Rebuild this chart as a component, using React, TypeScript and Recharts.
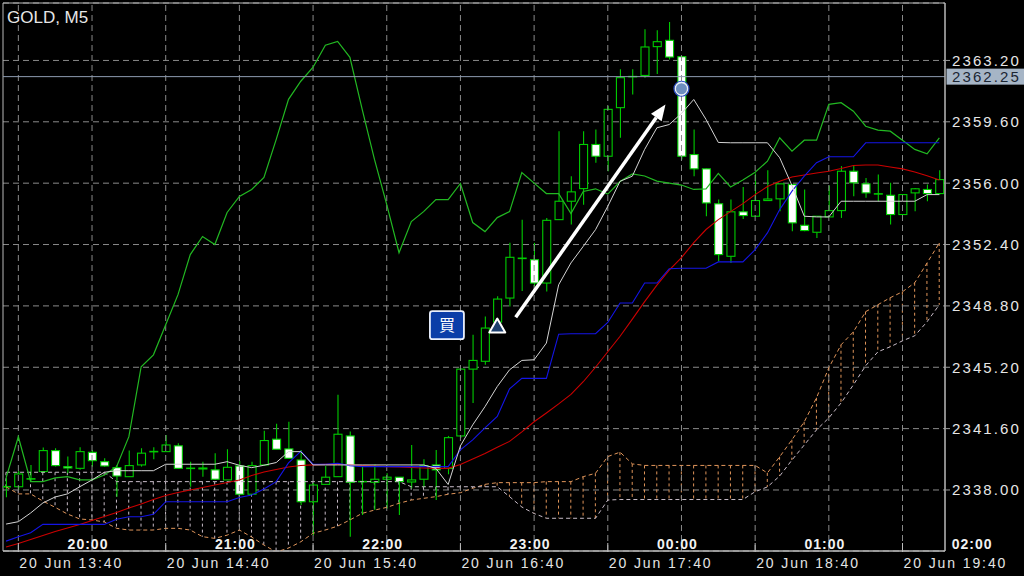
import React from 'react';
import {
  ComposedChart, Bar, Line, XAxis, YAxis, CartesianGrid,
  ReferenceLine, ReferenceDot, ReferenceArea,
} from 'recharts';

// ---------- data ----------
const openP = [
  2338.19, 2338.19, 2338.65, 2339.08, 2340.31, 2339.37, 2339.27, 2340.21, 2339.66, 2339.31,
  2338.78, 2339.47, 2340.25, 2340.25, 2340.59, 2339.27, 2339.29, 2339.18, 2338.59, 2339.41,
  2337.75, 2339.47, 2340.98, 2340.41, 2339.76, 2337.31, 2338.33, 2338.78, 2341.17, 2338.49,
  2338.45, 2338.63, 2338.75, 2338.47, 2338.63, 2339.47, 2339.27, 2341.17, 2345.09, 2345.55,
  2347.85, 2349.26, 2351.59, 2351.51, 2350.14, 2353.86, 2354.94, 2355.68, 2358.27, 2357.58,
  2360.43, 2362.25, 2362.32, 2364.01, 2364.38, 2363.42, 2357.68, 2356.84, 2354.79, 2351.71,
  2354.32, 2354.06, 2354.98, 2355.08, 2355.92, 2353.53, 2353.12, 2354.02, 2354.39, 2356.70,
  2355.96, 2355.37, 2355.29, 2354.16, 2355.43, 2355.63, 2355.39,
];
const highP = [
  2338.69, 2339.12, 2339.47, 2340.49, 2340.45, 2339.96, 2340.51, 2340.35, 2339.86, 2339.47,
  2340.31, 2340.45, 2340.51, 2341.23, 2340.74, 2339.66, 2339.66, 2340.16, 2340.39, 2339.70,
  2339.66, 2341.48, 2341.88, 2342.00, 2340.35, 2338.41, 2339.41, 2343.58, 2341.43, 2339.37,
  2339.51, 2338.98, 2338.75, 2340.64, 2339.80, 2340.35, 2341.17, 2345.15, 2347.10, 2348.18,
  2349.36, 2352.50, 2353.86, 2352.50, 2353.96, 2359.05, 2356.41, 2359.05, 2359.15, 2360.52,
  2362.68, 2362.68, 2365.03, 2364.97, 2365.45, 2363.46, 2359.15, 2356.86, 2355.04, 2355.04,
  2355.78, 2356.57, 2356.76, 2355.96, 2355.92, 2355.63, 2354.06, 2355.86, 2357.00, 2357.00,
  2356.31, 2356.51, 2356.02, 2355.33, 2355.72, 2355.92, 2356.76,
];
const lowP = [
  2337.57, 2338.00, 2338.53, 2338.98, 2339.38, 2338.98, 2339.18, 2339.37, 2339.37, 2337.61,
  2338.76, 2339.37, 2339.80, 2340.23, 2339.25, 2338.19, 2338.78, 2338.59, 2338.59, 2337.74,
  2337.75, 2339.47, 2340.39, 2339.86, 2337.12, 2335.35, 2338.33, 2338.78, 2335.26, 2336.53,
  2336.82, 2336.92, 2336.53, 2338.10, 2338.16, 2337.41, 2338.92, 2341.05, 2343.10, 2345.34,
  2348.00, 2348.77, 2349.67, 2349.94, 2349.65, 2353.86, 2353.57, 2354.74, 2357.20, 2356.70,
  2358.66, 2361.20, 2362.19, 2362.40, 2363.26, 2357.39, 2356.41, 2354.06, 2351.42, 2351.32,
  2353.90, 2354.06, 2354.98, 2354.35, 2353.18, 2353.18, 2352.79, 2354.02, 2353.96, 2355.23,
  2355.14, 2354.94, 2353.57, 2354.16, 2354.35, 2354.94, 2355.33,
];
const closeP = [
  2338.19, 2338.94, 2338.65, 2340.31, 2339.43, 2339.29, 2340.25, 2339.72, 2339.41, 2338.82,
  2339.43, 2340.16, 2340.25, 2340.64, 2339.27, 2339.27, 2339.25, 2338.63, 2339.33, 2337.75,
  2339.43, 2340.90, 2340.39, 2339.86, 2337.31, 2338.29, 2338.75, 2341.27, 2338.45, 2338.49,
  2338.63, 2338.75, 2338.49, 2338.59, 2339.43, 2339.18, 2341.07, 2345.09, 2345.60, 2347.50,
  2349.20, 2351.65, 2351.59, 2350.14, 2353.82, 2354.94, 2355.49, 2358.27, 2357.58, 2360.33,
  2362.19, 2362.25, 2363.99, 2364.30, 2363.40, 2357.58, 2356.84, 2354.84, 2351.81, 2354.32,
  2354.10, 2354.98, 2355.07, 2355.96, 2353.67, 2353.22, 2354.06, 2354.39, 2356.70, 2356.02,
  2355.43, 2355.37, 2354.16, 2355.33, 2355.67, 2355.39, 2356.21,
];
// white line
const tenkan = [
  2336.00, 2336.14, 2336.65, 2337.24, 2337.59, 2337.77, 2338.19, 2338.59, 2339.04, 2339.13,
  2339.13, 2339.13, 2339.13, 2339.51, 2339.51, 2339.51, 2339.51, 2339.51, 2339.66, 2339.45,
  2339.31, 2339.45, 2339.61, 2340.25, 2340.25, 2339.47, 2339.47, 2339.47, 2339.47, 2339.47,
  2339.47, 2339.47, 2339.47, 2339.47, 2339.47, 2339.27, 2338.32, 2340.59, 2341.82, 2342.89,
  2344.07, 2345.05, 2345.60, 2345.64, 2346.62, 2350.04, 2351.32, 2352.29, 2353.27, 2354.64,
  2356.11, 2356.41, 2357.98, 2359.25, 2359.44, 2360.09, 2360.91, 2359.74, 2358.39, 2358.37,
  2358.37, 2358.37, 2358.37, 2357.49, 2355.86, 2354.06, 2354.02, 2354.02, 2354.94, 2354.94,
  2354.94, 2354.94, 2354.94, 2354.94, 2354.94, 2355.33, 2355.33,
];
// blue line
const kijun = [
  2335.00, 2335.26, 2335.49, 2335.98, 2335.98, 2335.98, 2335.98, 2335.98, 2335.98, 2336.28,
  2336.43, 2336.43, 2336.57, 2337.31, 2337.31, 2337.31, 2337.31, 2337.31, 2337.31, 2337.56,
  2337.71, 2338.06, 2338.49, 2339.59, 2340.27, 2339.51, 2339.51, 2339.57, 2339.43, 2339.37,
  2339.37, 2339.37, 2339.37, 2339.37, 2339.37, 2339.37, 2339.37, 2340.35, 2340.94, 2341.64,
  2342.31, 2343.93, 2344.55, 2344.55, 2344.55, 2347.14, 2347.17, 2347.17, 2347.17, 2347.83,
  2348.97, 2348.97, 2350.14, 2350.14, 2350.98, 2351.01, 2351.01, 2351.01, 2351.38, 2351.38,
  2351.38, 2352.10, 2353.08, 2354.45, 2355.53, 2356.41, 2357.20, 2357.55, 2357.55, 2357.55,
  2358.37, 2358.37, 2358.37, 2358.37, 2358.37, 2358.37, 2358.37,
];
// red moving average
const movAvg = [
  2334.65, 2334.86, 2335.09, 2335.33, 2335.56, 2335.77, 2335.97, 2336.21, 2336.44, 2336.68,
  2336.94, 2337.18, 2337.44, 2337.68, 2337.85, 2338.00, 2338.15, 2338.29, 2338.44, 2338.59,
  2338.85, 2339.06, 2339.20, 2339.35, 2339.44, 2339.47, 2339.50, 2339.51, 2339.47, 2339.44,
  2339.41, 2339.37, 2339.35, 2339.32, 2339.29, 2339.27, 2339.27, 2339.50, 2339.82, 2340.14,
  2340.50, 2340.85, 2341.41, 2342.00, 2342.52, 2343.05, 2343.61, 2344.35, 2345.20, 2346.11,
  2347.02, 2348.02, 2349.05, 2350.02, 2350.90, 2351.63, 2352.51, 2353.28, 2353.86, 2354.33,
  2354.80, 2355.33, 2355.80, 2356.11, 2356.36, 2356.48, 2356.60, 2356.70, 2356.86, 2357.04,
  2357.07, 2357.07, 2356.95, 2356.84, 2356.66, 2356.43, 2356.19,
];
// green line
const chikou = [
  2338.71, 2341.12, 2338.49, 2338.49, 2338.71, 2338.78, 2338.59, 2338.59, 2338.88, 2339.37,
  2341.13, 2345.23, 2345.93, 2347.69, 2349.46, 2351.81, 2352.87, 2352.40, 2354.28, 2355.22,
  2355.63, 2356.33, 2358.57, 2360.92, 2361.98, 2362.80, 2364.09, 2364.32, 2363.38, 2360.33,
  2357.39, 2354.74, 2351.92, 2353.75, 2354.33, 2355.04, 2355.04, 2355.98, 2353.69, 2353.16,
  2353.98, 2354.33, 2356.62, 2356.00, 2355.39, 2355.39, 2354.22, 2355.51, 2355.67, 2355.36,
  2356.10, 2356.54, 2356.42, 2356.12, 2356.00, 2355.89, 2355.63, 2355.66, 2356.57, 2355.78,
  2356.19, 2356.64, 2357.29, 2358.66, 2357.88, 2358.52, 2358.52, 2360.62, 2360.72, 2360.22,
  2359.34, 2359.11, 2359.05, 2358.52, 2357.98, 2357.72, 2358.66,
];
const spanA = [
  2338.18, 2337.77, 2337.77, 2337.35, 2336.98, 2336.59, 2336.30, 2336.24, 2336.12, 2335.75,
  2335.65, 2335.65, 2335.65, 2335.75, 2335.75, 2335.65, 2335.26, 2335.16, 2335.35, 2335.65,
  2335.24, 2334.77, 2334.36, 2334.59, 2334.96, 2335.46, 2335.65, 2335.88, 2336.24, 2336.63,
  2336.82, 2336.98, 2337.22, 2337.41, 2337.51, 2337.61, 2337.75, 2337.84, 2338.10, 2338.33,
  2338.43, 2338.43, 2338.43, 2338.43, 2338.49, 2338.49, 2338.49, 2338.78, 2338.98, 2339.96,
  2340.22, 2339.53, 2339.44, 2339.44, 2339.44, 2339.44, 2339.44, 2339.44, 2339.44, 2339.44,
  2339.44, 2339.44, 2339.00, 2339.95, 2340.95, 2342.00, 2343.41, 2345.17, 2346.52, 2347.28,
  2348.46, 2348.87, 2349.28, 2349.63, 2350.16, 2351.32, 2352.49,
];
const spanB = [
  2339.04, 2339.04, 2339.04, 2339.04, 2339.04, 2339.04, 2339.04, 2339.04, 2339.04, 2338.49,
  2338.49, 2338.49, 2338.49, 2338.49, 2338.49, 2338.49, 2338.49, 2338.49, 2338.49, 2338.49,
  2338.49, 2338.49, 2338.49, 2338.49, 2338.49, 2338.49, 2338.49, 2338.49, 2338.49, 2338.49,
  2338.49, 2338.49, 2338.49, 2338.19, 2338.19, 2338.19, 2338.19, 2338.19, 2338.19, 2338.19,
  2338.19, 2337.61, 2337.00, 2336.62, 2336.34, 2336.34, 2336.34, 2336.34, 2336.34, 2337.41,
  2337.44, 2337.44, 2337.44, 2337.44, 2337.44, 2337.44, 2337.44, 2337.44, 2337.44, 2337.44,
  2337.44, 2337.90, 2338.18, 2338.82, 2339.76, 2340.64, 2341.53, 2342.23, 2343.11, 2344.17,
  2345.29, 2346.11, 2346.40, 2346.75, 2347.05, 2347.87, 2348.87,
];

const PRICE_TICKS = [2338.0, 2341.6, 2345.2, 2348.8, 2352.4, 2356.0, 2359.6, 2363.2];
const GRID_X = [1, 7, 13, 19, 25, 31, 37, 43, 49, 55, 61, 67, 73];
const DATE_TICKS = [1, 13, 25, 37, 49, 61, 73];
const DATE_LABELS = ['20 Jun 13:40', '20 Jun 14:40', '20 Jun 15:40', '20 Jun 16:40', '20 Jun 17:40', '20 Jun 18:40', '20 Jun 19:40'];
const HOUR_TICKS = [7, 19, 31, 43, 55, 67, 79];
const HOUR_LABELS = ['20:00', '21:00', '22:00', '23:00', '00:00', '01:00', '02:00'];
const CURRENT_PRICE = 2362.25;
// annotations: [barIndex, price]
const BUY_LABEL = [35.9, 2347.67];
const BUY_MARK = [40, 2347.62];
const EXIT_MARK = [55, 2361.54];
const ARROW_FROM = [41.5, 2348.13];
const ARROW_TO = [53.7, 2360.62];

const X_MIN = -0.25;
const X_MAX = 76.46;
const Y_MIN = 2334.42;
const Y_MAX = 2366.57;

const data = openP.map((o, i) => ({
  i,
  open: o,
  high: highP[i],
  low: lowP[i],
  close: closeP[i],
  tenkan: tenkan[i],
  kijun: kijun[i],
  ma: movAvg[i],
  chikou: chikou[i],
  spanA: spanA[i],
  spanB: spanB[i],
}));

const FONT = '"Liberation Sans", Arial, sans-serif';
const CANDLE_GREEN = '#00cc00';

const CandleShape = (props: any) => {
  const { x, y, width, height, payload } = props;
  if (!payload || x == null || y == null) return null;
  const { open, close, high, low } = payload;
  const span = high - low;
  const k = span > 0 ? height / span : 0;
  const yO = y + (high - open) * k;
  const yC = y + (high - close) * k;
  const cx = x + width / 2;
  const top = Math.min(yO, yC);
  const bot = Math.max(yO, yC);
  const bull = close > open;
  const doji = Math.abs(close - open) < 0.03;
  return (
    <g>
      <line x1={cx} x2={cx} y1={y} y2={y + height} stroke={CANDLE_GREEN} strokeWidth={1.1} />
      {doji ? (
        <line x1={x} x2={x + width} y1={(yO + yC) / 2} y2={(yO + yC) / 2} stroke={CANDLE_GREEN} strokeWidth={1.6} />
      ) : (
        <rect x={x + 0.5} y={top} width={width - 1} height={Math.max(bot - top, 1)}
          fill={bull ? '#000' : '#ffffff'} stroke={CANDLE_GREEN} strokeWidth={1.1} />
      )}
    </g>
  );
};

const HatchShape = (props: any) => {
  const { x, y, width, height, payload } = props;
  if (!payload || x == null || y == null) return null;
  const cx = x + width / 2;
  const color = payload.spanA > payload.spanB ? '#e0955a' : '#c8bcc8';
  return <line x1={cx} x2={cx} y1={y} y2={y + height} stroke={color} strokeWidth={1} strokeDasharray="3 3" />;
};

const DateTick = (props: any) => {
  const { x, y, payload } = props;
  const idx = DATE_TICKS.indexOf(payload.value);
  return (
    <g>
      <line x1={x} x2={x} y1={y - 8} y2={y + 1} stroke="#bdbdbd" strokeWidth={1} />
      <text x={x + 1} y={y + 17} fill="#e4e4e4" fontSize={14} letterSpacing={1.9} fontFamily={FONT}>
        {idx >= 0 ? DATE_LABELS[idx] : ''}
      </text>
    </g>
  );
};

const PriceTick = (props: any) => {
  const { x, y, payload } = props;
  return (
    <text x={x} y={y} dy="0.36em" fill="#e6e6e6" fontSize={15} letterSpacing={2.1} fontFamily={FONT} textAnchor="start">
      {Number(payload.value).toFixed(2)}
    </text>
  );
};

const makeHourLabel = (txt: string) => (p: any) => {
  const vb = p.viewBox || {};
  return (
    <text x={vb.x - 4} y={vb.y + vb.height - 2} textAnchor="middle" fill="#f2f2f2" fontWeight="bold"
      fontSize={14} letterSpacing={1} fontFamily={FONT}>
      {txt}
    </text>
  );
};

const PriceTag = (p: any) => {
  const vb = p.viewBox || {};
  const right = vb.x + vb.width;
  return (
    <g>
      <rect x={right + 1.5} y={vb.y - 8} width={79} height={16} fill="#a6b5c6" />
      <text x={right + 7} y={vb.y} dy="0.36em" fill="#1b2533" fontSize={15} letterSpacing={2.1} fontFamily={FONT}>
        {CURRENT_PRICE.toFixed(2)}
      </text>
    </g>
  );
};

const ArrowShape = (p: any) => {
  const { x1, y1, x2, y2 } = p;
  if ([x1, y1, x2, y2].some((v) => v == null || isNaN(v))) return null;
  const ang = Math.atan2(y2 - y1, x2 - x1);
  const L = 16;
  const W = 6.5;
  const bx = x2 - L * Math.cos(ang);
  const by = y2 - L * Math.sin(ang);
  const px = -Math.sin(ang);
  const py = Math.cos(ang);
  return (
    <g>
      <line x1={x1} y1={y1} x2={bx} y2={by} stroke="#ffffff" strokeWidth={3.5} />
      <polygon points={`${x2},${y2} ${bx + px * W},${by + py * W} ${bx - px * W},${by - py * W}`} fill="#ffffff" />
    </g>
  );
};

const BuyBox = (p: any) => {
  const { cx, cy } = p;
  return (
    <g>
      <rect x={cx - 17} y={cy - 14} width={34} height={28} rx={2.5} fill="#0b3ea8" stroke="#e8eefc" strokeWidth={1.8} />
      <text x={cx} y={cy + 6} textAnchor="middle" fill="#ffffff" fontSize={16} fontFamily='"Noto Sans CJK JP", sans-serif'>買</text>
    </g>
  );
};

const BuyTriangle = (p: any) => {
  const { cx, cy } = p;
  return (
    <polygon points={`${cx},${cy - 7.5} ${cx - 8},${cy + 6.5} ${cx + 8},${cy + 6.5}`}
      fill="#1d3f6e" stroke="#ffffff" strokeWidth={2} strokeLinejoin="round" />
  );
};

const ExitCircle = (p: any) => {
  const { cx, cy } = p;
  return (
    <g>
      <circle cx={cx} cy={cy} r={7.5} fill="none" stroke="#2b4fc9" strokeWidth={1.2} />
      <circle cx={cx} cy={cy} r={6.2} fill="#6d8fbf" stroke="#e8eef8" strokeWidth={1.4} />
    </g>
  );
};

export default function App() {
  return (
    <div style={{ position: 'absolute', left: 0, top: 0, width: 1024, height: 576, background: '#000', overflow: 'hidden' }}>
      <ComposedChart width={1024} height={576} data={data} margin={{ top: 3, right: 0, bottom: 0, left: 3 }}>
        <CartesianGrid vertical={false} stroke="#8a8a8a" strokeDasharray="6 4" />
        <XAxis dataKey="i" type="number" domain={[X_MIN, X_MAX]} allowDataOverflow ticks={DATE_TICKS}
          interval={0} tick={<DateTick />} tickSize={0} tickMargin={0} height={25}
          axisLine={{ stroke: '#b9b9b9' }} tickLine={false} />
        <XAxis xAxisId="hx" dataKey="i" type="number" domain={[X_MIN, X_MAX]} allowDataOverflow hide />
        <YAxis orientation="right" domain={[Y_MIN, Y_MAX]} allowDataOverflow ticks={PRICE_TICKS} interval={0}
          width={79} tickSize={5} tickMargin={2} axisLine={{ stroke: '#b9b9b9' }} tickLine={{ stroke: '#9a9a9a' }}
          tick={<PriceTick />} />
        {GRID_X.map((gx) => (
          <ReferenceLine key={'gx' + gx} x={gx} stroke="#8a8a8a" strokeDasharray="6 4" />
        ))}
        <Bar xAxisId="hx" dataKey={(d: any) => [Math.min(d.spanA, d.spanB), Math.max(d.spanA, d.spanB)]}
          barSize={2} shape={<HatchShape />} isAnimationActive={false} />
        <Line type="linear" dataKey="spanA" stroke="#e0955a" strokeWidth={1} strokeDasharray="4 3" dot={false} activeDot={false} isAnimationActive={false} />
        <Line type="linear" dataKey="spanB" stroke="#c8bcc8" strokeWidth={1} strokeDasharray="4 3" dot={false} activeDot={false} isAnimationActive={false} />
        <Bar dataKey={(d: any) => [d.low, d.high]} barSize={9} shape={<CandleShape />} isAnimationActive={false} />
        <Line type="linear" dataKey="chikou" stroke="#22b822" strokeWidth={1.2} dot={false} activeDot={false} isAnimationActive={false} />
        <Line type="linear" dataKey="ma" stroke="#cc0000" strokeWidth={1.1} dot={false} activeDot={false} isAnimationActive={false} />
        <Line type="linear" dataKey="kijun" stroke="#1414e6" strokeWidth={1.1} dot={false} activeDot={false} isAnimationActive={false} />
        <Line type="linear" dataKey="tenkan" stroke="#d4d4d4" strokeWidth={1} dot={false} activeDot={false} isAnimationActive={false} />
        <ReferenceLine y={CURRENT_PRICE} stroke="#8e9cb2" strokeWidth={1} label={(p: any) => <PriceTag {...p} />} />
        {HOUR_TICKS.map((h, k) => (
          <ReferenceLine key={'h' + h} x={h} stroke="none" ifOverflow="visible" label={makeHourLabel(HOUR_LABELS[k])} />
        ))}
        <ReferenceLine segment={[{ x: ARROW_FROM[0], y: ARROW_FROM[1] }, { x: ARROW_TO[0], y: ARROW_TO[1] }]}
          stroke="#ffffff" shape={<ArrowShape />} />
        <ReferenceDot x={BUY_LABEL[0]} y={BUY_LABEL[1]} r={14} shape={<BuyBox />} />
        <ReferenceDot x={BUY_MARK[0]} y={BUY_MARK[1]} r={8} shape={<BuyTriangle />} />
        <ReferenceDot x={EXIT_MARK[0]} y={EXIT_MARK[1]} r={7} shape={<ExitCircle />} />
        <ReferenceArea x1={X_MIN} x2={X_MAX} y1={Y_MIN} y2={Y_MAX} fill="none" stroke="#b9b9b9" strokeWidth={1} />
      </ComposedChart>
      <div style={{ position: 'absolute', left: 7, top: 8.5, fontFamily: FONT, fontSize: 17, lineHeight: '17px', color: '#e6e6e6', whiteSpace: 'nowrap' }}>
        GOLD, M5
      </div>
    </div>
  );
}
